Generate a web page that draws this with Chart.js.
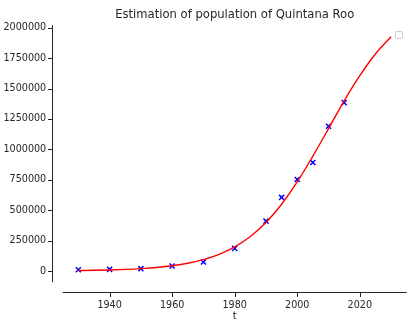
<!DOCTYPE html>
<html>
<head>
<meta charset="utf-8">
<script src="https://cdn.jsdelivr.net/npm/chart.js@4"></script>
<style>
  html, body { margin: 0; padding: 0; background: #fff; }
  #wrap { width: 408px; height: 322px; }
</style>
</head>
<body>
<div id="wrap"><canvas id="popChart" width="408" height="322"></canvas></div>
<script>
// Datos observados (censos)
const obsYears = [1930, 1940, 1950, 1960, 1970, 1980, 1990, 1995, 2000, 2005, 2010, 2015];
const obsValues = [10000, 14000, 19000, 41000, 74000, 186000, 410000, 605000, 752000, 892000, 1190000, 1384000];

// Curva estimada, leida cada 5 años
const curveYears = [1930, 1935, 1940, 1945, 1950, 1955, 1960, 1965, 1970, 1975, 1980,
                    1985, 1990, 1995, 2000, 2005, 2010, 2015, 2020, 2025, 2030];
const curveValues = [4000, 5900, 8800, 13100, 19500, 29000, 43000, 63500, 93500, 137000, 198000,
                     284000, 399000, 549000, 732000, 945000, 1170000, 1399000, 1606000, 1784000, 1926000];

// Etiquetas de los ejes
const xTicks = [1940, 1960, 1980, 2000, 2020];
const yTicks = [0, 250000, 500000, 750000, 1000000, 1250000, 1500000, 1750000, 2000000];

const ink = '#262626';
const font = 'DejaVu Sans';

// Dibuja los ejes desplazados (estilo despine) y la caja vacia de la leyenda
const spinesPlugin = {
    id: 'spines',
    afterDraw(chart) {
        const c = chart.ctx;
        const area = chart.chartArea;
        const xs = chart.scales.x;
        const ys = chart.scales.y;
        const off = 10;
        const tick = 4.5;
        c.save();
        c.strokeStyle = ink;
        c.lineWidth = 1;
        // eje y
        const sx = Math.round(area.left - off) - 0.5;
        c.beginPath();
        c.moveTo(sx, area.top);
        c.lineTo(sx, area.bottom);
        yTicks.forEach(v => {
            const py = Math.round(ys.getPixelForValue(v)) + 0.5;
            c.moveTo(sx - tick, py);
            c.lineTo(sx, py);
        });
        // eje x
        const sy = Math.round(area.bottom + off) + 0.5;
        c.moveTo(area.left, sy);
        c.lineTo(area.right, sy);
        xTicks.forEach(v => {
            const px = Math.round(xs.getPixelForValue(v)) + 0.5;
            c.moveTo(px, sy);
            c.lineTo(px, sy + tick);
        });
        c.stroke();
        // leyenda vacia
        c.strokeStyle = '#cccccc';
        c.fillStyle = 'rgba(255,255,255,0.8)';
        c.beginPath();
        c.roundRect(395.5, 31.5, 7, 7, 1.5);
        c.fill();
        c.stroke();
        c.restore();
    }
};

const ctx = document.getElementById('popChart').getContext('2d');

const popChart = new Chart(ctx, {
    type: 'scatter',
    data: {
        datasets: [{
            type: 'line',
            label: 'estimación',
            data: curveYears.map((t, i) => ({ x: t, y: curveValues[i] })),
            borderColor: '#ff0000',
            borderWidth: 1.4,
            pointRadius: 0,
            fill: false,
            cubicInterpolationMode: 'monotone',
            order: 0
        }, {
            type: 'scatter',
            label: 'datos',
            data: obsYears.map((t, i) => ({ x: t, y: obsValues[i] })),
            pointStyle: 'crossRot',
            pointRadius: 3.6,
            borderColor: '#0000ff',
            backgroundColor: '#0000ff',
            borderWidth: 1.5,
            order: 1
        }]
    },
    options: {
        responsive: false,
        animation: false,
        layout: { autoPadding: false, padding: { left: 0, right: 1.3, top: 0, bottom: 0 } },
        scales: {
            x: {
                type: 'linear',
                min: 1925,
                max: 2035,
                afterBuildTicks: s => { s.ticks = xTicks.map(v => ({ value: v })); },
                afterFit: s => { s.height = 39.8; s.paddingLeft = 0; s.paddingRight = 0; },
                grid: { drawOnChartArea: false, color: 'transparent', tickLength: 14 },
                border: { display: false },
                ticks: {
                    padding: 3.5,
                    color: ink,
                    font: { family: font, size: 9.6 },
                    callback: v => String(v)
                },
                title: {
                    display: true,
                    text: 't',
                    color: ink,
                    font: { family: font, size: 10 },
                    padding: { top: 0, bottom: 0 }
                }
            },
            y: {
                type: 'linear',
                min: -92000,
                max: 2022000,
                afterBuildTicks: s => { s.ticks = yTicks.map(v => ({ value: v })); },
                afterFit: s => { s.width = 62.7; s.paddingTop = 0; s.paddingBottom = 0; },
                grid: { drawOnChartArea: false, color: 'transparent', tickLength: 14 },
                border: { display: false },
                ticks: {
                    padding: 2.5,
                    color: ink,
                    font: { family: font, size: 9.6 },
                    callback: v => String(v)
                }
            }
        },
        plugins: {
            legend: { display: false },
            tooltip: { enabled: false },
            title: {
                display: true,
                fullSize: false,
                text: 'Estimation of population of Quintana Roo',
                color: ink,
                font: { family: font, size: 11.6, weight: 'normal', lineHeight: 1.2 },
                padding: { top: 8.5, bottom: 2.6 }
            }
        }
    },
    plugins: [spinesPlugin]
});
</script>
</body>
</html>
